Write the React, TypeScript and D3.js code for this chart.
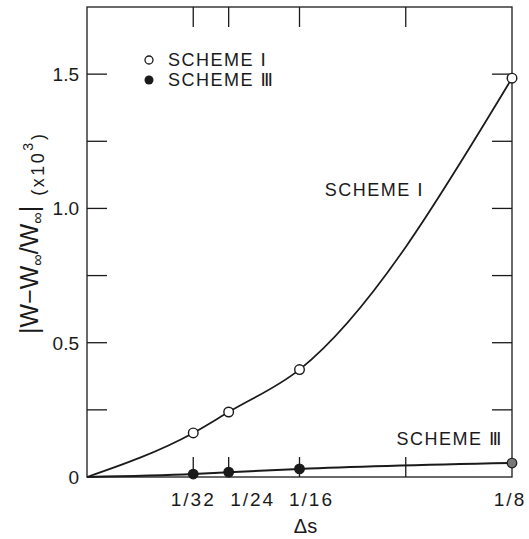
import React from "react";
import * as d3 from "d3";

const deltaS = [1 / 32, 1 / 24, 1 / 16, 1 / 8];
const schemeI = [0.164, 0.242, 0.4, 1.485];
const schemeIII = [0.011, 0.018, 0.03, 0.052];
const xTicks = [1 / 32, 1 / 24, 1 / 16, 3 / 32, 1 / 8];
const xTickLabels = ["1/32", "1/24", "1/16", "", "1/8"];
const yTicks = [0, 0.25, 0.5, 0.75, 1.0, 1.25, 1.5];
const yTickLabels = ["0", "", "0.5", "", "1.0", "", "1.5"];

const W = 529;
const H = 539;
const m = { left: 87, right: 17, top: 7, bottom: 62 };
const FONT = "'Liberation Sans', Arial, sans-serif";
const INK = "#1a1a1a";
const xLabelDx = [0, 24, 12, 0, -2];

export default function App() {
  const x = d3.scaleLinear().domain([0, 0.125]).range([m.left, W - m.right]);
  const y = d3.scaleLinear().domain([0, 1.75]).range([H - m.bottom, m.top]);
  const x0 = x(0), x1 = x(0.125), y0 = y(0), y1 = y(1.75);
  const tl = 20;

  const ptsI: [number, number][] = [[0, 0], ...deltaS.map((s, i) => [s, schemeI[i]] as [number, number])];
  const ptsIII: [number, number][] = [[0, 0], ...deltaS.map((s, i) => [s, schemeIII[i]] as [number, number])];
  const line = d3
    .line<[number, number]>()
    .x((d) => x(d[0]))
    .y((d) => y(d[1]))
    .curve(d3.curveMonotoneX);

  const roman = { fontFamily: "'DejaVu Sans', sans-serif" } as const;

  return (
    <svg width={W} height={H} style={{ position: "absolute", left: 0, top: 0, background: "#fff" }} fontFamily={FONT}>
      <rect x={0} y={0} width={W} height={H} fill="#fff" />
      {/* frame */}
      <rect x={x0} y={y1} width={x1 - x0} height={y0 - y1} fill="none" stroke={INK} strokeWidth={1.3} />
      {/* y ticks */}
      {yTicks.map((t, i) => (
        <g key={"y" + i}>
          {t > 0 && <line x1={x0} x2={x0 + tl} y1={y(t)} y2={y(t)} stroke={INK} strokeWidth={1.3} />}
          {t > 0 && <line x1={x1} x2={x1 - tl} y1={y(t)} y2={y(t)} stroke={INK} strokeWidth={1.3} />}
          {yTickLabels[i] && (
            <text x={x0 - 8} y={y(t)} dy="0.36em" textAnchor="end" fontSize={19} fill={INK}>
              {yTickLabels[i]}
            </text>
          )}
        </g>
      ))}
      {/* x ticks */}
      {xTicks.map((t, i) => (
        <g key={"x" + i}>
          {t < 0.125 && <line x1={x(t)} x2={x(t)} y1={y0} y2={y0 - tl} stroke={INK} strokeWidth={1.3} />}
          {t < 0.125 && <line x1={x(t)} x2={x(t)} y1={y1} y2={y1 + tl} stroke={INK} strokeWidth={1.3} />}
          {xTickLabels[i] && (
            <text x={x(t) + xLabelDx[i]} y={y0 + 29} textAnchor="middle" fontSize={19} fill={INK} letterSpacing={2}>
              {xTickLabels[i]}
            </text>
          )}
        </g>
      ))}
      <text x={x(0.0625) + 6} y={y0 + 56} textAnchor="middle" fontSize={20} fill={INK}>
        Δs
      </text>
      {/* y title */}
      <text transform={`translate(38, ${y(0.905)}) rotate(-90)`} textAnchor="middle" fontSize={25} fill={INK}>
        <tspan>|W−W</tspan>
        <tspan fontSize={16} dy={5}>∞</tspan>
        <tspan dy={-5}>/W</tspan>
        <tspan fontSize={16} dy={5}>∞</tspan>
        <tspan dy={-5}>|</tspan>
        <tspan fontSize={18} dx={10} dy={6} letterSpacing={2.5}>(x10</tspan>
        <tspan fontSize={14} dy={-11}>3</tspan>
        <tspan fontSize={18} dy={11} dx={3}>)</tspan>
      </text>
      {/* curves */}
      <path d={line(ptsI) || ""} fill="none" stroke={INK} strokeWidth={1.7} />
      <path d={line(ptsIII) || ""} fill="none" stroke={INK} strokeWidth={2} />
      {deltaS.map((s, i) => (
        <circle key={"c1" + i} cx={x(s)} cy={y(schemeI[i])} r={4.8} fill="#fff" stroke={INK} strokeWidth={1.4} />
      ))}
      {deltaS.map((s, i) => (
        <circle
          key={"c3" + i}
          cx={x(s)}
          cy={y(schemeIII[i])}
          r={4.8}
          fill={i === deltaS.length - 1 ? "#777" : INK}
          stroke={INK}
          strokeWidth={1.2}
        />
      ))}
      {/* curve labels */}
      <text x={424} y={196} textAnchor="end" fontSize={18} fill={INK} letterSpacing={1.5}>
        SCHEME <tspan {...roman}>Ⅰ</tspan>
      </text>
      <text x={503} y={445} textAnchor="end" fontSize={18} fill={INK} letterSpacing={1.5}>
        SCHEME <tspan {...roman}>Ⅲ</tspan>
      </text>
      {/* legend */}
      <circle cx={149} cy={60} r={4} fill="#fff" stroke={INK} strokeWidth={1.3} />
      <text x={168} y={66} fontSize={18} fill={INK} letterSpacing={1.5}>
        SCHEME <tspan {...roman}>Ⅰ</tspan>
      </text>
      <circle cx={149} cy={80} r={4.5} fill={INK} />
      <text x={168} y={86} fontSize={18} fill={INK} letterSpacing={1.5}>
        SCHEME <tspan {...roman}>Ⅲ</tspan>
      </text>
    </svg>
  );
}
